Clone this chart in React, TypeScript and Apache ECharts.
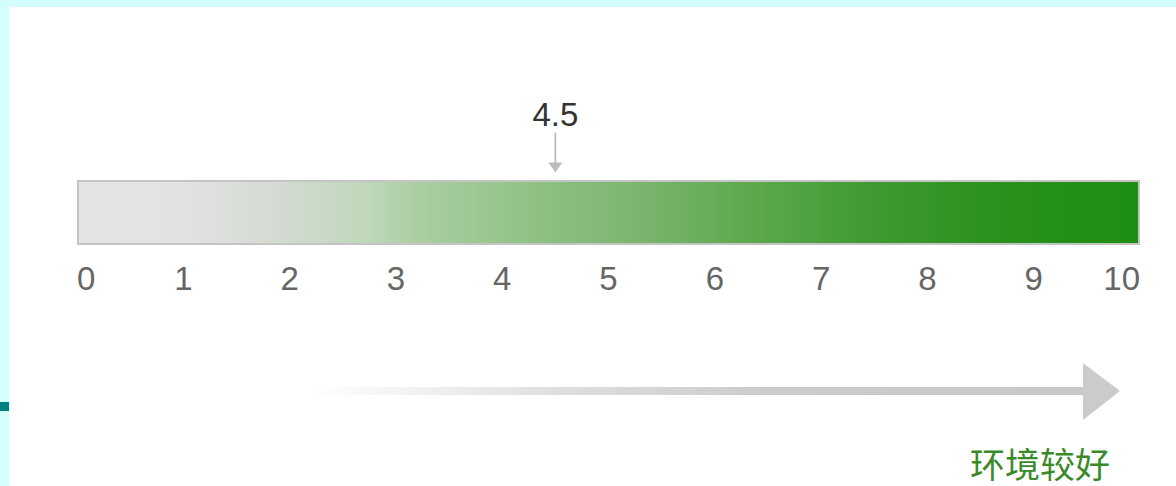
import React, { useEffect, useRef } from "react";
import * as echarts from "echarts";

// ---- data ----
const tickLabels = ["0", "1", "2", "3", "4", "5", "6", "7", "8", "9", "10"];
const scaleMin = 0;
const scaleMax = 10;
const categories = ["指数"];
const barValues = [10];
const markerValues = [4.5];
const legendText = "环境较好";

export default function App() {
  const ref = useRef<HTMLDivElement>(null);

  useEffect(() => {
    if (!ref.current) return;
    const chart = echarts.init(ref.current, undefined, { renderer: "svg" });

    const barGradient = new echarts.graphic.LinearGradient(0, 0, 1, 0, [
      { offset: 0, color: "#e4e4e4" },
      { offset: 0.1, color: "#e2e2e2" },
      { offset: 0.2, color: "#d2dad0" },
      { offset: 0.27, color: "#bfd8bb" },
      { offset: 0.33, color: "#a9cc9f" },
      { offset: 0.45, color: "#8ac07f" },
      { offset: 0.54, color: "#78b46c" },
      { offset: 0.63, color: "#5fa94f" },
      { offset: 0.75, color: "#3e9a30" },
      { offset: 0.88, color: "#28911a" },
      { offset: 1, color: "#1e8e12" },
    ]);

    const option: any = {
      animation: false,
      backgroundColor: "#d4fdfd",
      grid: { left: 77, right: 36, top: 179, height: 67, containLabel: false },
      xAxis: {
        type: "value",
        min: scaleMin,
        max: scaleMax,
        interval: 1,
        position: "bottom",
        axisLine: { show: false },
        axisTick: { show: false },
        splitLine: { show: false },
        axisLabel: {
          margin: 16,
          fontSize: 33,
          color: "#666",
          fontFamily: "Liberation Sans",
          alignMinLabel: "left",
          alignMaxLabel: "right",
          formatter: (v: number) => tickLabels[Math.round(v - scaleMin)] ?? "",
        },
      },
      yAxis: {
        type: "category",
        data: categories,
        show: false,
      },
      series: [
        {
          type: "bar",
          data: barValues,
          barWidth: 65,
          itemStyle: {
            color: barGradient,
            borderColor: "#c4c4c4",
            borderWidth: 2,
          },
          z: 2,
        },
        {
          type: "scatter",
          data: markerValues.map((v) => [v, categories[0]]),
          symbol: "path://M7,0 L9,0 L9,30 L16,30 L8,40 L0,30 L7,30 Z",
          symbolSize: [14, 40],
          symbolOffset: [0, -60],
          itemStyle: { color: "#bdbdbd", opacity: 1 },
          label: {
            show: true,
            position: "top",
            distance: 2,
            fontSize: 33,
            color: "#333",
            fontFamily: "Liberation Sans",
            formatter: (p: any) => String(p.value[0]),
          },
          z: 5,
        },
      ],
      graphic: [
        {
          type: "rect",
          z: -10,
          shape: { x: 9, y: 7, width: 1176, height: 486 },
          style: { fill: "#ffffff" },
        },
        {
          type: "rect",
          z: -10,
          shape: { x: 0, y: 402, width: 9, height: 9 },
          style: { fill: "#008080" },
        },
        {
          type: "rect",
          z: 1,
          shape: { x: 310, y: 387, width: 775, height: 8 },
          style: {
            fill: new echarts.graphic.LinearGradient(0, 0, 1, 0, [
              { offset: 0, color: "rgba(205,205,205,0)" },
              { offset: 0.35, color: "rgba(205,205,205,0.7)" },
              { offset: 0.6, color: "#cbcbcb" },
              { offset: 1, color: "#c8c8c8" },
            ]),
          },
        },
        {
          type: "polygon",
          z: 1,
          shape: {
            points: [
              [1083, 363],
              [1120, 391],
              [1083, 420],
            ],
          },
          style: { fill: "#cbcbcb" },
        },
        {
          type: "text",
          z: 1,
          x: 1040,
          y: 462,
          style: {
            text: legendText,
            fontSize: 35,
            fontFamily: "Noto Sans CJK SC",
            fill: "#3a8a2a",
            align: "center",
            verticalAlign: "middle",
          },
        },
      ],
    };

    chart.setOption(option);
    return () => chart.dispose();
  }, []);

  return (
    <div
      ref={ref}
      style={{ position: "fixed", left: 0, top: 0, width: 1176, height: 486 }}
    />
  );
}
